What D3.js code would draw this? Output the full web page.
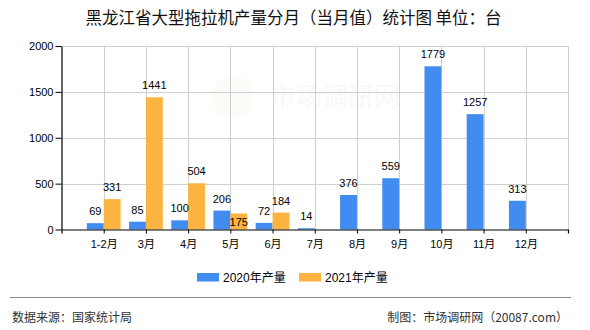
<!DOCTYPE html>
<html>
<head>
<meta charset="utf-8">
<script src="https://cdn.jsdelivr.net/npm/d3@7/dist/d3.min.js"></script>
<style>
  html, body { margin: 0; padding: 0; background: #fff; }
  svg { display: block; font-family: "Liberation Sans", "Noto Sans CJK SC", sans-serif; }
</style>
</head>
<body>
<svg id="chart" width="590" height="330"></svg>
<script>
// Monthly output of large tractors, Heilongjiang (units)
const months = ["1-2月", "3月", "4月", "5月", "6月", "7月", "8月", "9月", "10月", "11月", "12月"];
const output2020 = [69, 85, 100, 206, 72, 14, 376, 559, 1779, 1257, 313];
const output2021 = [331, 1441, 504, 175, 184, null, null, null, null, null, null];
const seriesNames = ["2020年产量", "2021年产量"];
const seriesColors = ["#418CF0", "#FCB441"];
const yTicks = [0, 500, 1000, 1500, 2000];

const svg = d3.select("#chart");
const plotL = 61.5, plotR = 568, plotT = 46, plotB = 229.5;

const x = d3.scalePoint().domain(months).range([plotL, plotR]).padding(1);
const step = x.step();
const xSeries = d3.scaleBand().domain(seriesNames).range([-step * 0.4, step * 0.4]).paddingInner(0).paddingOuter(0);
const y = d3.scaleLinear().domain([0, 2000]).range([plotB, plotT]);

// faint watermark
const wm = svg.append("g").attr("opacity", 0.035);
wm.append("circle").attr("cx", 233).attr("cy", 97).attr("r", 21).attr("fill", "#c08a30");
wm.append("text").attr("x", 270).attr("y", 106).attr("font-size", 26)
  .attr("font-family", "Noto Sans CJK SC").attr("fill", "#555").text("市场调研网");

// title
svg.append("text").attr("x", 293.5).attr("y", 17).attr("text-anchor", "middle")
  .attr("dominant-baseline", "central").attr("font-size", 16.5).attr("fill", "#111")
  .attr("font-family", "Noto Sans CJK SC")
  .text("黑龙江省大型拖拉机产量分月（当月值）统计图 单位：台");

// grid
const grid = svg.append("g").attr("stroke", "#cfcfcf").attr("stroke-width", 1);
grid.selectAll("line.h").data(yTicks.slice(1)).join("line")
  .attr("x1", plotL).attr("x2", plotR).attr("y1", d => Math.round(y(d)) + 0.5).attr("y2", d => Math.round(y(d)) + 0.5);
grid.selectAll("line.v").data(months.concat(["end"])).join("line")
  .attr("x1", d => Math.round(d === "end" ? plotR : x(d)) + 0.5)
  .attr("x2", d => Math.round(d === "end" ? plotR : x(d)) + 0.5)
  .attr("y1", plotT).attr("y2", plotB);

// bars
const rows = months.map((m, i) => ({ m, vals: [output2020[i], output2021[i]] }));
const groups = svg.append("g").selectAll("g").data(rows).join("g")
  .attr("transform", d => `translate(${x(d.m)},0)`);
groups.selectAll("rect")
  .data(d => d.vals.map((v, k) => ({ v, k })).filter(e => e.v != null))
  .join("rect")
  .attr("x", e => xSeries(seriesNames[e.k]))
  .attr("width", xSeries.bandwidth())
  .attr("y", e => y(e.v))
  .attr("height", e => y(0) - y(e.v))
  .attr("fill", e => seriesColors[e.k]);

// value labels; a label that would collide with its neighbour goes inside the bar
const labelLayer = svg.append("g").attr("font-size", 11).attr("fill", "#000").attr("text-anchor", "middle");
rows.forEach(r => {
  const placed = [];
  r.vals.forEach((v, k) => {
    if (v == null) return;
    const cx = x(r.m) + xSeries(seriesNames[k]) + xSeries.bandwidth() / 2;
    const t = labelLayer.append("text").attr("x", cx).attr("y", y(v) - 8).text(v);
    const w = t.node().getComputedTextLength();
    let by = y(v) - 8;
    const hit = placed.some(p => Math.abs(p.y - by) < 10 && Math.abs(p.x - cx) < (p.w + w) / 2);
    if (hit) { by = y(v) + 12.5; t.attr("y", by); }
    placed.push({ x: cx, y: by, w });
  });
});

// axes
const yAxis = svg.append("g").attr("transform", `translate(${plotL},0)`)
  .call(d3.axisLeft(y).tickValues(yTicks).tickFormat(d3.format("d")).tickSize(6).tickPadding(2).tickSizeOuter(0));
const xAxis = svg.append("g").attr("transform", `translate(0,${plotB})`)
  .call(d3.axisBottom(x).tickSize(4).tickSizeOuter(4).tickPadding(7));
[yAxis, xAxis].forEach(a => {
  a.selectAll("path, line").attr("stroke", "#000");
  a.selectAll("text").attr("fill", "#000").attr("font-size", 11)
    .attr("font-family", "Liberation Sans, Noto Sans CJK SC");
});
xAxis.select(".domain").attr("stroke-width", 1.2);
yAxis.select(".domain").attr("stroke-width", 1.2);

// legend
const legend = svg.append("g").attr("font-size", 12).attr("font-family", "Liberation Sans, Noto Sans CJK SC");
const legendX = [197, 299];
seriesNames.forEach((n, k) => {
  legend.append("rect").attr("x", legendX[k]).attr("y", 273).attr("width", 22).attr("height", 8.5).attr("fill", seriesColors[k]);
  legend.append("text").attr("x", legendX[k] + 26).attr("y", 277.5).attr("dominant-baseline", "central")
    .attr("fill", "#000").text(n);
});

// footer
svg.append("line").attr("x1", 10).attr("x2", 571).attr("y1", 297.5).attr("y2", 297.5)
  .attr("stroke", "#888").attr("stroke-width", 1.2);
svg.append("text").attr("x", 12).attr("y", 316).attr("dominant-baseline", "central")
  .attr("font-size", 12).attr("fill", "#333").attr("font-family", "Noto Sans CJK SC")
  .text("数据来源：国家统计局");
svg.append("text").attr("x", 568).attr("y", 316).attr("dominant-baseline", "central").attr("text-anchor", "end")
  .attr("font-size", 12).attr("fill", "#333").attr("font-family", "Noto Sans CJK SC")
  .text("制图：市场调研网（20087.com）");
</script>
</body>
</html>
